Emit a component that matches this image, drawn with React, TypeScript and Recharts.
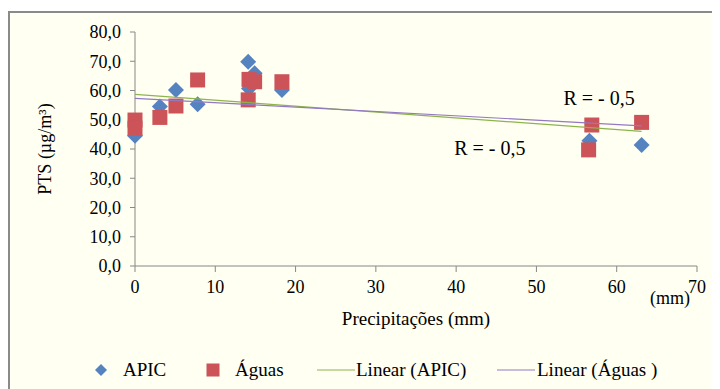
import React from "react";
import {
  ScatterChart,
  Scatter,
  XAxis,
  YAxis,
  ReferenceDot,
} from "recharts";

// ---- data ----
const apic = [
  { x: 0, y: 44.5 },
  { x: 3.1, y: 54.5 },
  { x: 5.1, y: 60.2 },
  { x: 7.8, y: 55.3 },
  { x: 14.1, y: 69.8 },
  { x: 14.9, y: 65.9 },
  { x: 14.2, y: 60.7 },
  { x: 18.3, y: 60.2 },
  { x: 56.6, y: 42.8 },
  { x: 63.1, y: 41.4 },
];

const aguas = [
  { x: 0, y: 49.9 },
  { x: 0, y: 47.1 },
  { x: 3.1, y: 50.8 },
  { x: 5.1, y: 54.7 },
  { x: 7.8, y: 63.6 },
  { x: 14.2, y: 63.8 },
  { x: 14.9, y: 63.0 },
  { x: 14.1, y: 56.8 },
  { x: 18.3, y: 63.0 },
  { x: 56.9, y: 48.2 },
  { x: 56.5, y: 39.7 },
  { x: 63.1, y: 49.1 },
];

const trendApic = [
  { x: 0, y: 58.7 },
  { x: 63.1, y: 46.0 },
];

const trendAguas = [
  { x: 0, y: 57.3 },
  { x: 63.1, y: 47.9 },
];

const xTicks = [0, 10, 20, 30, 40, 50, 60, 70];
const yTicks = [0, 10, 20, 30, 40, 50, 60, 70, 80];

const rLabels = [
  { x: 57.8, y: 57.4, text: "R = - 0,5" },
  { x: 44.2, y: 40.3, text: "R = - 0,5" },
];

const legendItems = [
  { kind: "diamond", label: "APIC" },
  { kind: "square", label: "Águas" },
  { kind: "lineGreen", label: "Linear (APIC)" },
  { kind: "linePurple", label: "Linear (Águas )" },
];

// ---- styles ----
const FONT = "Liberation Serif, serif";
const BLUE = "#5483C0";
const RED = "#CC5458";
const GREEN = "#8DB44C";
const PURPLE = "#9478C4";
const AXIS = "#888888";
const BG = "#FFFFF2";

const Diamond = (props: any) => {
  const { cx, cy } = props;
  if (cx == null || cy == null) return <g />;
  const r = 8;
  return (
    <polygon
      points={`${cx},${cy - r} ${cx + r},${cy} ${cx},${cy + r} ${cx - r},${cy}`}
      fill={BLUE}
    />
  );
};

const Square = (props: any) => {
  const { cx, cy } = props;
  if (cx == null || cy == null) return <g />;
  const s = 15;
  return <rect x={cx - s / 2} y={cy - s / 2} width={s} height={s} fill={RED} />;
};

const NoShape = () => <g />;

const fmt = (v: number) => v.toFixed(1).replace(".", ",");

const legendPos: Record<string, { mark: number; text: number }> = {
  diamond: { mark: 86, text: 115 },
  square: { mark: 198, text: 227 },
  lineGreen: { mark: 309, text: 348 },
  linePurple: { mark: 489, text: 529 },
};

const LegendMark = ({ kind }: { kind: string }) => {
  if (kind === "diamond")
    return (
      <svg width={14} height={14} style={{ display: "block" }}>
        <polygon points="7,1 13,7 7,13 1,7" fill={BLUE} />
      </svg>
    );
  if (kind === "square")
    return (
      <svg width={14} height={14} style={{ display: "block" }}>
        <rect x={0.5} y={0.5} width={13} height={13} fill={RED} />
      </svg>
    );
  return (
    <svg width={38} height={4} style={{ display: "block" }}>
      <line x1={0} y1={2} x2={38} y2={2} stroke={kind === "lineGreen" ? GREEN : PURPLE} strokeWidth={1.2} />
    </svg>
  );
};

export default function App() {
  return (
    <div style={{ position: "relative", width: 712, height: 381, overflow: "hidden", background: "#fff" }}>
      <div
        style={{
          position: "absolute",
          left: 0,
          top: 3,
          width: 740,
          height: 400,
          background: BG,
          borderLeft: "2px solid #8a8a8a",
          borderTop: "2px solid #8a8a8a",
        }}
      />
      <div style={{ position: "absolute", left: 0, top: 0 }}>
        <ScatterChart
          width={712}
          height={381}
          margin={{ top: 24, right: 23, left: 0, bottom: 93 }}
          style={{ fontFamily: FONT }}
        >
          <XAxis
            type="number"
            dataKey="x"
            domain={[0, 70]}
            ticks={xTicks}
            interval={0}
            height={30}
            axisLine={{ stroke: AXIS }}
            tickLine={{ stroke: AXIS }}
            tickSize={6}
            tickMargin={8}
            tick={{ fill: "#000", fontSize: 18, fontFamily: FONT }}
            label={{
              content: (p: any) => {
                const vb = p.viewBox || {};
                return (
                  <g>
                    <text
                      x={vb.x + vb.width / 2}
                      y={vb.y + 59}
                      textAnchor="middle"
                      fontSize={19}
                      fontFamily={FONT}
                      fill="#000"
                    >
                      Precipitações (mm)
                    </text>
                    <text
                      x={vb.x + vb.width - 27}
                      y={vb.y + 38}
                      textAnchor="middle"
                      fontSize={18}
                      fontFamily={FONT}
                      fill="#000"
                    >
                      (mm)
                    </text>
                  </g>
                );
              },
            }}
          />
          <YAxis
            type="number"
            dataKey="y"
            domain={[0, 80]}
            ticks={yTicks}
            interval={0}
            width={127}
            axisLine={{ stroke: AXIS }}
            tickLine={{ stroke: AXIS }}
            tickSize={5}
            tickMargin={9}
            tickFormatter={fmt}
            tick={{ fill: "#000", fontSize: 18, fontFamily: FONT }}
            label={{
              content: (p: any) => {
                const vb = p.viewBox || {};
                const cx = vb.x + 37;
                const cy = vb.y + vb.height / 2;
                return (
                  <text
                    x={cx}
                    y={cy}
                    transform={`rotate(-90 ${cx} ${cy})`}
                    textAnchor="middle"
                    dominantBaseline="central"
                    fontSize={18}
                    fontFamily={FONT}
                    fill="#000"
                  >
                    PTS (µg/m³)
                  </text>
                );
              },
            }}
          />
          <Scatter name="APIC" data={apic} shape={<Diamond />} isAnimationActive={false} />
          <Scatter name="Águas" data={aguas} shape={<Square />} isAnimationActive={false} />
          <Scatter
            name="Linear (APIC)"
            data={trendApic}
            line={{ stroke: GREEN, strokeWidth: 1.2 }}
            shape={<NoShape />}
            isAnimationActive={false}
          />
          <Scatter
            name="Linear (Águas )"
            data={trendAguas}
            line={{ stroke: PURPLE, strokeWidth: 1.2 }}
            shape={<NoShape />}
            isAnimationActive={false}
          />
          {rLabels.map((r, i) => (
            <ReferenceDot
              key={i}
              x={r.x}
              y={r.y}
              r={0}
              fill="none"
              stroke="none"
              ifOverflow="visible"
              label={{
                value: r.text,
                position: "center",
                fontSize: 20,
                fontFamily: FONT,
                fill: "#000",
              }}
            />
          ))}
        </ScatterChart>
      </div>
      {legendItems.map((it) => {
        const pos = legendPos[it.kind];
        const isLine = it.kind.startsWith("line");
        return (
          <React.Fragment key={it.kind}>
            <div
              style={{
                position: "absolute",
                left: pos.mark,
                top: isLine ? 360 : 355,
              }}
            >
              <LegendMark kind={it.kind} />
            </div>
            <div
              style={{
                position: "absolute",
                left: pos.text,
                top: 350,
                fontFamily: FONT,
                fontSize: 19,
                lineHeight: "24px",
                color: "#000",
                whiteSpace: "nowrap",
              }}
            >
              {it.label}
            </div>
          </React.Fragment>
        );
      })}
    </div>
  );
}
